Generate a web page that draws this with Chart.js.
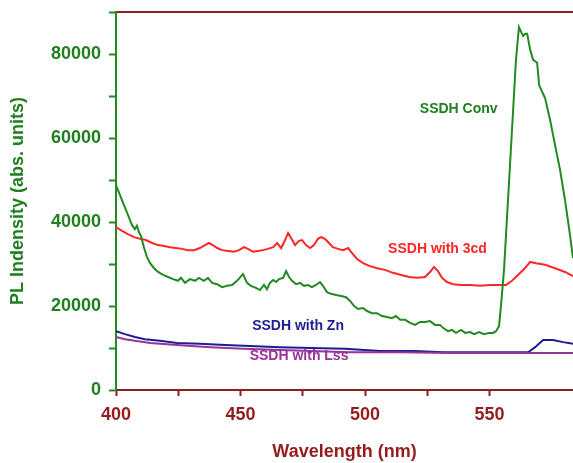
<!DOCTYPE html>
<html>
<head>
<meta charset="utf-8">
<script src="https://cdn.jsdelivr.net/npm/chart.js@4/dist/chart.umd.min.js"></script>
<style>
html,body{margin:0;padding:0;background:#fff;}
canvas{display:block;}
</style>
</head>
<body>
<canvas id="c" width="573" height="463"></canvas>
<script>
// ---- Data (wavelength in nm, PL intensity in abs. units) ----
const convWavelength = [400.0,401.6,403.2,404.8,406.4,407.6,408.4,409.2,410.0,411.2,412.4,413.7,415.3,416.9,418.9,420.9,422.9,424.9,426.1,427.7,429.7,431.7,433.3,435.3,436.9,438.6,440.6,442.6,444.6,446.6,448.6,451.0,452.6,454.2,456.2,457.8,459.4,460.6,461.8,463.1,464.3,465.5,467.1,468.3,469.5,470.7,472.3,473.9,475.5,477.1,478.7,480.3,481.9,483.1,484.7,486.3,488.4,490.4,492.4,494.0,495.6,497.2,499.2,500.8,502.8,504.8,506.8,508.8,510.8,512.4,514.1,516.1,518.1,520.1,522.1,524.1,526.1,528.1,530.1,531.3,533.3,534.9,536.5,538.6,540.2,542.2,543.8,545.8,547.8,549.8,551.4,552.6,553.8,554.6,555.8,557.4,559.0,560.6,561.8,562.7,563.5,564.3,565.1,566.3,567.5,569.1,569.9,571.1,572.3,574.3,576.3,578.3,580.3,582.3,583.5];
const convIntensity = [48800,46400,44000,41700,39300,38300,39100,37600,36700,34000,31700,30200,29000,28100,27400,26900,26400,26000,26700,25500,26400,26000,26700,26000,26700,25500,25200,24500,24800,25000,26000,27600,25500,24800,24300,23800,25000,24000,25500,26200,25700,26400,26700,28300,26900,26000,25200,25500,24800,25000,24500,25000,25700,24800,23300,22900,22600,22400,22100,21200,20000,19300,19500,18800,18300,18300,17600,17400,17100,17600,16700,16700,16000,15500,16200,16200,16400,15500,15500,14800,14000,14300,13600,14300,13600,13800,13300,13800,13300,13600,13600,14000,15200,20200,28600,45200,61900,78600,86400,85200,84300,84800,84800,81000,78600,77900,72600,71000,69500,64300,58300,52400,45200,36900,31400];

const cdWavelength = [400.0,402.4,404.8,407.2,409.6,412.0,414.5,416.9,419.3,421.7,424.1,426.5,428.9,431.3,433.7,435.7,437.3,438.9,440.6,442.6,445.0,447.4,449.4,451.4,453.0,455.0,457.0,459.0,461.0,463.1,464.7,466.3,467.9,469.1,470.3,471.9,473.5,474.7,476.3,477.9,479.5,481.1,482.3,483.9,485.5,487.1,489.2,491.2,493.2,494.8,496.8,499.2,502.0,504.8,508.0,511.2,514.5,517.7,520.9,524.1,526.1,527.7,529.3,530.9,532.9,535.3,538.6,542.2,546.2,550.2,554.2,556.6,559.0,561.4,563.9,566.3,568.7,572.3,576.3,580.3,583.5];
const cdIntensity = [38800,37900,37100,36400,36000,35700,35000,34500,34300,34000,33800,33600,33300,33300,33800,34500,35000,34500,33800,33300,33100,32900,33300,34000,33600,32900,33100,33300,33600,34000,35000,33800,35700,37400,36200,34500,35500,35700,34500,33800,34500,36000,36400,36000,35000,34000,33600,33300,33800,32600,31200,30200,29500,29000,28600,27900,27400,26900,26700,26900,28100,29300,28300,26700,25700,25200,25000,25000,24800,25000,25000,25000,26000,27400,28800,30500,30200,29800,29000,28100,27100];

const znWavelength = [400.0,403.6,407.6,411.6,417.7,424.5,433.7,443.8,453.8,465.9,477.9,492.0,506.0,520.1,531.3,546.2,565.5,568.3,571.5,575.5,579.5,583.5];
const znIntensity = [14000,13300,12600,12100,11700,11200,11000,10700,10500,10200,10000,9800,9300,9300,9000,9000,9000,10200,11900,11900,11400,11000];

const lssWavelength = [400.0,403.6,407.6,413.7,424.5,437.8,451.0,465.9,477.9,494.0,514.1,534.1,554.2,583.5];
const lssIntensity = [12600,12100,11700,11200,10700,10200,9800,9500,9300,9000,9000,8800,8800,8800];

const seriesNames = ["SSDH Conv", "SSDH with 3cd", "SSDH with Zn", "SSDH with Lss"];
const xTickLabels = [400, 450, 500, 550];
const yTickLabels = [0, 20000, 40000, 60000, 80000];

// ---- Styles ----
const FONT = '"Liberation Sans", Arial, Helvetica, sans-serif';
const GREEN = '#218a21';
const GREEN_TXT = '#1f7f1f';
const RED = '#ff2626';
const DARKRED = '#951c1c';
const BLUE = '#1c1c94';
const PURPLE = '#983398';

const toPts = (xs, ys) => xs.map((x, i) => ({x: x, y: ys[i]}));

const labelPositions = [
  {x: 537.6, y: 66900, color: GREEN_TXT},
  {x: 529.1, y: 33600, color: RED},
  {x: 473.1, y: 15200, color: BLUE},
  {x: 473.5, y: 8100, color: PURPLE}
];

const seriesLabels = {
  id: 'seriesLabels',
  afterDatasetsDraw(chart) {
    const {ctx, scales: {x, y}} = chart;
    ctx.save();
    ctx.font = 'bold 14px ' + FONT;
    ctx.textAlign = 'center';
    ctx.textBaseline = 'middle';
    seriesNames.forEach((name, i) => {
      const p = labelPositions[i];
      ctx.fillStyle = p.color;
      ctx.fillText(name, x.getPixelForValue(p.x), y.getPixelForValue(p.y));
    });
    ctx.restore();
  }
};

const X_MIN = 400, X_MAX = 583.5;

new Chart(document.getElementById('c'), {
  type: 'line',
  data: {
    datasets: [
      {label: seriesNames[0], data: toPts(convWavelength, convIntensity), borderColor: GREEN},
      {label: seriesNames[1], data: toPts(cdWavelength, cdIntensity), borderColor: RED},
      {label: seriesNames[3], data: toPts(lssWavelength, lssIntensity), borderColor: PURPLE},
      {label: seriesNames[2], data: toPts(znWavelength, znIntensity), borderColor: BLUE}
    ]
  },
  options: {
    responsive: false,
    animation: false,
    devicePixelRatio: 1,
    layout: {padding: {top: 12, right: 0, bottom: 0, left: 0}},
    elements: {
      point: {radius: 0},
      line: {borderWidth: 2, tension: 0, fill: false}
    },
    plugins: {legend: {display: false}, tooltip: {enabled: false}},
    scales: {
      x: {
        type: 'linear', position: 'bottom', min: X_MIN, max: X_MAX,
        afterBuildTicks: s => { s.ticks = s.ticks.filter(t => t.value % 25 === 0); },
        afterFit: s => { s.height = 73; s.paddingLeft = 0; s.paddingRight = 0; },
        ticks: {
          stepSize: 25, autoSkip: false, maxRotation: 0, padding: 8,
          color: DARKRED, font: {family: FONT, size: 18, weight: 'bold'},
          callback: v => xTickLabels.includes(v) ? String(v) : ''
        },
        grid: {drawOnChartArea: false, tickLength: 6, tickColor: DARKRED, tickWidth: 2},
        border: {color: DARKRED, width: 2},
        title: {display: true, text: 'Wavelength (nm)', color: DARKRED,
                font: {family: FONT, size: 18, weight: 'bold'}, padding: {top: 0, bottom: 0}}
      },
      xTop: {
        type: 'linear', position: 'top', min: X_MIN, max: X_MAX,
        afterFit: s => { s.height = 0; s.paddingLeft = 0; s.paddingRight = 0; },
        ticks: {display: false},
        grid: {drawOnChartArea: false, drawTicks: false},
        border: {color: DARKRED, width: 2}
      },
      y: {
        type: 'linear', position: 'left', min: 0, max: 90000,
        afterFit: s => { s.width = 116; s.paddingTop = 0; s.paddingBottom = 0; },
        ticks: {
          stepSize: 10000, autoSkip: false, padding: 8,
          color: GREEN_TXT, font: {family: FONT, size: 18, weight: 'bold'},
          callback: v => yTickLabels.includes(v) ? String(v) : ''
        },
        grid: {drawOnChartArea: false, tickLength: 7, tickColor: GREEN, tickWidth: 2},
        border: {color: GREEN, width: 2},
        title: {display: true, text: 'PL Indensity (abs. units)', color: GREEN_TXT,
                font: {family: FONT, size: 18, weight: 'bold'}, padding: {top: 7, bottom: 0}}
      }
    }
  },
  plugins: [seriesLabels]
});
</script>
</body>
</html>
